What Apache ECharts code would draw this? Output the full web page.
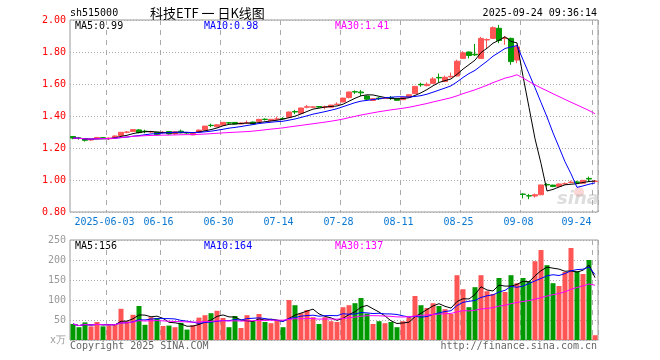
<!DOCTYPE html>
<html><head><meta charset="utf-8">
<script src="https://cdn.jsdelivr.net/npm/echarts@6/dist/echarts.min.js"></script>
<style>html,body{margin:0;padding:0;background:#fff}#c{width:660px;height:360px}</style>
</head><body><div id="c"></div>
<script>
const dates = [
'2025-05-23','2025-05-26','2025-05-27','2025-05-28','2025-05-29','2025-05-30',
'2025-06-03','2025-06-04','2025-06-05','2025-06-06','2025-06-09','2025-06-10','2025-06-11','2025-06-12','2025-06-13',
'2025-06-16','2025-06-17','2025-06-18','2025-06-19','2025-06-20','2025-06-23','2025-06-24','2025-06-25','2025-06-26','2025-06-27','2025-06-30',
'2025-07-01','2025-07-02','2025-07-03','2025-07-04','2025-07-07','2025-07-08','2025-07-09','2025-07-10','2025-07-11',
'2025-07-14','2025-07-15','2025-07-16','2025-07-17','2025-07-18','2025-07-21','2025-07-22','2025-07-23','2025-07-24','2025-07-25',
'2025-07-28','2025-07-29','2025-07-30','2025-07-31','2025-08-01','2025-08-04','2025-08-05','2025-08-06','2025-08-07','2025-08-08',
'2025-08-11','2025-08-12','2025-08-13','2025-08-14','2025-08-15','2025-08-18','2025-08-19','2025-08-20','2025-08-21','2025-08-22',
'2025-08-25','2025-08-26','2025-08-27','2025-08-28','2025-08-29','2025-09-01','2025-09-02','2025-09-03','2025-09-04','2025-09-05',
'2025-09-08','2025-09-09','2025-09-10','2025-09-11','2025-09-12','2025-09-15','2025-09-16','2025-09-17','2025-09-18','2025-09-19',
'2025-09-22','2025-09-23','2025-09-24'];

const openP = [1.272,1.262,1.258,1.250,1.257,1.264,1.258,1.265,1.278,1.298,1.303,1.313,1.305,1.300,1.298,1.296,1.303,1.290,1.305,1.296,1.282,1.300,1.312,1.342,1.333,1.342,1.358,1.360,1.350,1.356,1.362,1.365,1.380,1.371,1.380,1.385,1.392,1.428,1.417,1.455,1.455,1.459,1.455,1.455,1.472,1.488,1.515,1.552,1.550,1.525,1.497,1.512,1.510,1.515,1.508,1.502,1.518,1.540,1.598,1.590,1.604,1.641,1.615,1.644,1.650,1.760,1.800,1.786,1.760,1.875,1.885,1.948,1.884,1.885,1.750,0.912,0.902,0.900,0.908,0.972,0.968,0.960,0.975,0.984,0.988,0.980,1.010,0.990];
const closeP = [1.262,1.260,1.248,1.253,1.266,1.262,1.262,1.275,1.298,1.300,1.315,1.296,1.302,1.302,1.285,1.298,1.288,1.302,1.302,1.294,1.292,1.312,1.337,1.340,1.345,1.360,1.356,1.350,1.356,1.358,1.350,1.379,1.378,1.379,1.382,1.383,1.425,1.425,1.450,1.458,1.457,1.456,1.458,1.468,1.474,1.512,1.550,1.550,1.545,1.505,1.508,1.508,1.512,1.512,1.498,1.515,1.533,1.585,1.595,1.598,1.632,1.638,1.642,1.648,1.742,1.795,1.778,1.782,1.885,1.878,1.952,1.872,1.888,1.740,1.832,0.910,0.900,0.908,0.969,0.969,0.960,0.975,0.977,0.987,0.985,0.998,1.006,0.993];
const lowP = [1.255,1.252,1.240,1.245,1.255,1.256,1.250,1.262,1.276,1.292,1.300,1.292,1.292,1.296,1.280,1.290,1.284,1.280,1.292,1.288,1.280,1.298,1.310,1.330,1.330,1.340,1.350,1.348,1.348,1.350,1.348,1.362,1.372,1.369,1.378,1.378,1.390,1.412,1.415,1.448,1.450,1.452,1.442,1.454,1.468,1.485,1.510,1.538,1.525,1.500,1.495,1.500,1.508,1.500,1.495,1.500,1.516,1.538,1.583,1.585,1.602,1.612,1.612,1.640,1.648,1.758,1.760,1.775,1.758,1.825,1.882,1.855,1.845,1.720,1.730,0.885,0.880,0.890,0.905,0.958,0.955,0.955,0.972,0.980,0.975,0.978,0.990,0.985];
const highP = [1.275,1.268,1.262,1.258,1.268,1.268,1.266,1.278,1.300,1.306,1.318,1.318,1.314,1.308,1.300,1.306,1.305,1.305,1.315,1.300,1.295,1.315,1.338,1.352,1.348,1.362,1.362,1.362,1.360,1.372,1.365,1.382,1.385,1.382,1.396,1.392,1.428,1.438,1.452,1.469,1.460,1.462,1.465,1.470,1.485,1.515,1.552,1.560,1.562,1.528,1.510,1.517,1.517,1.525,1.510,1.517,1.535,1.588,1.608,1.610,1.643,1.665,1.652,1.671,1.752,1.805,1.803,1.850,1.895,1.885,1.960,1.969,1.900,1.890,1.845,0.917,0.912,0.915,0.970,0.980,0.970,0.978,0.985,0.996,0.995,1.000,1.021,1.000];
const volume = [40,32,44,34,45,34,37,40,78,47,63,85,38,57,55,35,36,32,43,26,37,56,62,67,73,55,32,60,30,62,47,65,45,42,50,32,100,87,67,75,57,40,57,47,45,82,87,92,105,66,40,47,42,45,32,47,57,110,87,80,92,85,77,65,162,127,82,132,162,122,115,155,120,162,142,155,147,197,225,187,142,135,170,230,172,165,200,12];

const labelDates = ['2025-06-03','2025-06-16','2025-06-30','2025-07-14','2025-07-28','2025-08-11','2025-08-25','2025-09-08','2025-09-24'];
const labelTexts = ['2025-06-03','06-16','06-30','07-14','07-28','08-11','08-25','09-08','09-24'];
const priceTicks = {min:0.8, max:2.0, step:0.2};
const volTicks = {min:0, max:250, step:50};

const UP = '#ff5555', DOWN = '#009900';
const MONO = 'DejaVu Sans Mono';

function ma(arr, n){
  return arr.map((_, i) => {
    const s = Math.max(0, i - n + 1); let sum = 0;
    for (let k = s; k <= i; k++) sum += arr[k];
    return +(sum / (i - s + 1)).toFixed(4);
  });
}
const ma5 = ma(closeP,5), ma10 = ma(closeP,10), ma30 = ma(closeP,30);
const vma5 = ma(volume,5), vma10 = ma(volume,10), vma30 = ma(volume,30);
const labelIdx = labelDates.map(d => dates.indexOf(d));
const lastIdx = dates.length - 1;

const kData = dates.map((d,i) => [openP[i], closeP[i], lowP[i], highP[i]]);
const volData = volume.map((v,i) => ({value: v, itemStyle: {color: closeP[i] >= openP[i] ? UP : DOWN}}));

const splitX = {show:true, interval:(i)=>labelIdx.includes(i), lineStyle:{color:'#aaa', type:[5,5], width:1}};
const dotted = {show:true, lineStyle:{color:'#aaa', type:[1,2], width:1}};

const chart = echarts.init(document.getElementById('c'), null, {renderer:'canvas'});
const txt = (x,y,t,color,extra) => Object.assign({type:'text', x, y, style:Object.assign({text:t, fill:color, font:'10px "'+MONO+'"', textVerticalAlign:'middle'}, extra||{})});

chart.setOption({
  animation:false,
  backgroundColor:'#fff',
  grid:[
    {left:70, top:20, width:528, height:192, show:true, borderColor:'#999', borderWidth:1},
    {left:70, top:240, width:528, height:100, show:true, borderColor:'#999', borderWidth:1}
  ],
  xAxis:[
    {type:'category', gridIndex:0, data:dates, boundaryGap:true,
     axisLine:{show:false}, axisTick:{show:false}, splitLine:splitX,
     axisLabel:{show:true, interval:(i)=>labelIdx.includes(i), margin:5,
       formatter:(v,i)=>{ const k = labelIdx.indexOf(i); if (k<0) return ''; return (i===lastIdx?'{b|':'{a|') + labelTexts[k] + '}'; },
       rich:{
         a:{color:'#0a78d2', fontFamily:MONO, fontSize:10, padding:[0,9,0,0]},
         b:{color:'#0a78d2', fontFamily:MONO, fontSize:10, padding:[0,37,0,0]}
       }}},
    {type:'category', gridIndex:1, data:dates, boundaryGap:true,
     axisLine:{show:false}, axisTick:{show:false}, axisLabel:{show:false}, splitLine:splitX}
  ],
  yAxis:[
    {type:'value', gridIndex:0, min:priceTicks.min, max:priceTicks.max, interval:priceTicks.step,
     axisLine:{show:false}, axisTick:{show:false}, splitLine:dotted,
     axisLabel:{color:'#ff0000', fontFamily:MONO, fontSize:10, margin:4, formatter:(v)=>v.toFixed(2)}},
    {type:'value', gridIndex:1, min:volTicks.min, max:volTicks.max, interval:volTicks.step,
     axisLine:{show:false}, axisTick:{show:false}, splitLine:dotted,
     axisLabel:{color:'#999', fontFamily:MONO, fontSize:10, margin:4, formatter:(v)=> v===0 ? 'x万' : String(v)}}
  ],
  series:[
    {type:'candlestick', xAxisIndex:0, yAxisIndex:0, data:kData, barWidth:5,
     itemStyle:{color:UP, color0:DOWN, borderColor:UP, borderColor0:DOWN, borderWidth:1}},
    {type:'line', xAxisIndex:0, yAxisIndex:0, data:ma5, symbol:'none', z:5, lineStyle:{color:'#000', width:1}},
    {type:'line', xAxisIndex:0, yAxisIndex:0, data:ma10, symbol:'none', z:5, lineStyle:{color:'#0000ff', width:1}},
    {type:'line', xAxisIndex:0, yAxisIndex:0, data:ma30, symbol:'none', z:5, lineStyle:{color:'#ff00ff', width:1}},
    {type:'bar', xAxisIndex:1, yAxisIndex:1, data:volData, barWidth:5},
    {type:'line', xAxisIndex:1, yAxisIndex:1, data:vma5, symbol:'none', z:5, lineStyle:{color:'#000', width:1}},
    {type:'line', xAxisIndex:1, yAxisIndex:1, data:vma10, symbol:'none', z:5, lineStyle:{color:'#0000ff', width:1}},
    {type:'line', xAxisIndex:1, yAxisIndex:1, data:vma30, symbol:'none', z:5, lineStyle:{color:'#ff00ff', width:1}}
  ],
  graphic:[
    txt(70,13,'sh515000','#000'),
    {type:'text', x:150, y:13, style:{text:'科技ETF 一 日K线图', fill:'#000', font:'13px "Noto Sans CJK SC"', textVerticalAlign:'middle'}},
    txt(597,13,'2025-09-24 09:36:14','#000',{textAlign:'right'}),
    txt(75,26,'MA5:'+ma5[lastIdx].toFixed(2),'#000'),
    txt(204,26,'MA10:'+ma10[lastIdx].toFixed(2),'#0000ff'),
    txt(335,26,'MA30:'+ma30[lastIdx].toFixed(2),'#ff00ff'),
    txt(75,246,'MA5:'+Math.round(vma5[lastIdx]),'#000'),
    txt(204,246,'MA10:'+Math.round(vma10[lastIdx]),'#0000ff'),
    txt(335,246,'MA30:'+Math.round(vma30[lastIdx]),'#ff00ff'),
    txt(70,346,'Copyright 2025 SINA.COM','#666'),
    txt(597,346,'http://finance.sina.com.cn','#666',{textAlign:'right'}),
    {type:'circle', shape:{cx:579, cy:192, r:5}, style:{fill:'rgba(240,120,120,0.3)'}, z:0},
    {type:'text', x:557, y:199, z:0, style:{text:'sina', fill:'rgba(170,170,170,0.4)', font:'italic bold 18px "DejaVu Sans"', textVerticalAlign:'middle'}}
  ]
});
</script></body></html>
